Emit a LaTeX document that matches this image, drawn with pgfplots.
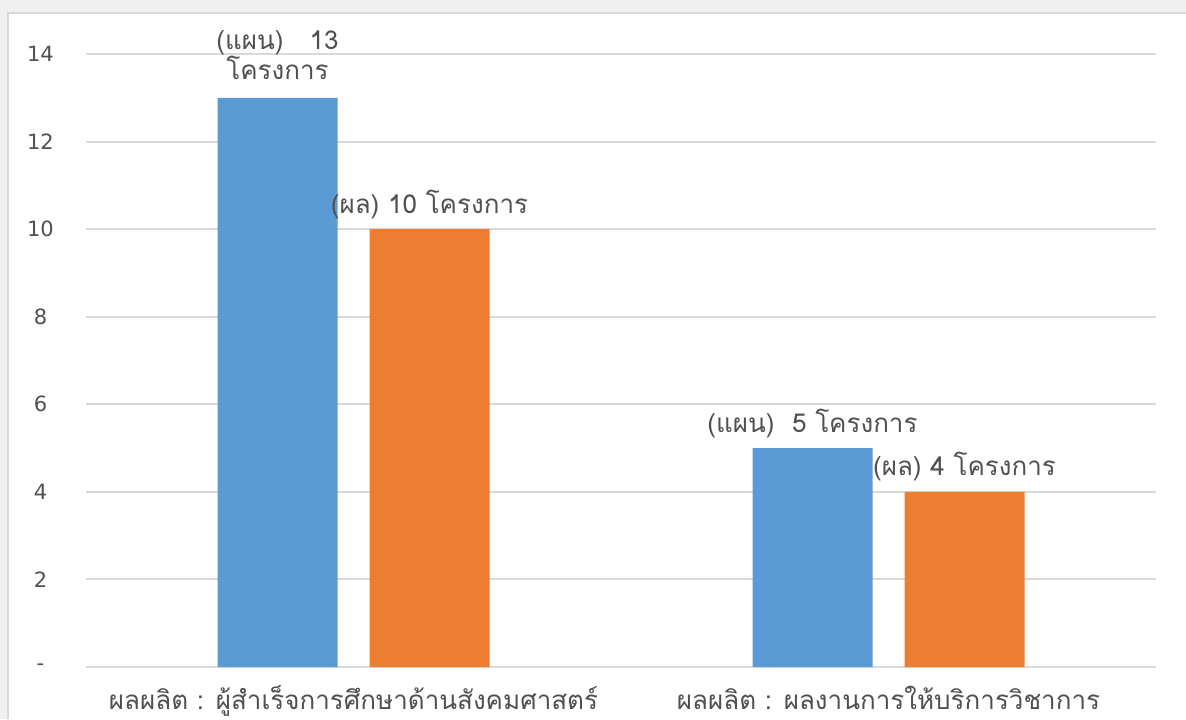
\documentclass[border=0pt]{standalone}
\usepackage{fontspec}
\setmainfont{DejaVu Sans}
\newfontfamily\thai[Script=Thai]{Loma}
\usepackage{pgfplots}
\pgfplotsset{compat=1.18}
\definecolor{bgc}{HTML}{F0F0F0}
\definecolor{bordc}{HTML}{D9D9D9}
\definecolor{gridc}{HTML}{D9D9D9}
\definecolor{txt}{HTML}{505050}
\definecolor{cblue}{HTML}{5B9BD5}
\definecolor{corange}{HTML}{ED7D31}
\begin{document}
\begin{tikzpicture}
\useasboundingbox (0,0) rectangle (593pt,359.5pt);
\fill[bgc] (0,0) rectangle (593pt,359.5pt);
\fill[white] (4pt,0) rectangle (593pt,353pt);
\draw[bordc, line width=1pt] (4pt,0) -- (4pt,353pt) -- (593pt,353pt);
\begin{axis}[
  at={(43pt,26pt)}, anchor=south west,
  scale only axis, width=535pt, height=306.5pt,
  xmin=-0.5, xmax=1.5, ymin=0, ymax=14,
  ybar, bar width=60pt,
  axis line style={draw=none},
  tick style={draw=none},
  ymajorgrids, grid style={gridc, line width=1pt},
  ytick={0,2,4,6,8,10,12,14},
  yticklabels={\raisebox{-2pt}{-}\hspace{9pt},2,4,6,8,10,12,14},
  yticklabel style={anchor=center, xshift=-22.75pt, font=\fontsize{10.5}{12}\selectfont, text=txt},
  xtick={0,1},
  xticklabels={{ผลผลิต : ผู้สำเร็จการศึกษาด้านสังคมศาสตร์},{ผลผลิต : ผลงานการให้บริการวิชาการ}},
  xticklabel style={anchor=north, yshift=-4pt, inner sep=1pt, font=\thai\fontsize{13}{15}\selectfont, text=txt},
  point meta=explicit symbolic,
  nodes near coords,
  nodes near coords style={font=\thai\fontsize{13}{15}\selectfont, text=txt, align=center, anchor=south, inner sep=2pt, yshift=3pt},
]
\addplot[fill=cblue, draw=none, bar shift=-38pt] coordinates {
  (0,13) [{(แผน)\ \ \ 13\\\raisebox{0pt}[\height][\dimexpr\depth+4pt\relax]{โครงการ}}]
  (1,5) [{(แผน)\ \ 5 โครงการ}]
};
\addplot[fill=corange, draw=none, bar shift=38pt] coordinates {
  (0,10) [{(ผล) 10 โครงการ}]
  (1,4) [{(ผล) 4 โครงการ}]
};
\end{axis}
\end{tikzpicture}
\end{document}
